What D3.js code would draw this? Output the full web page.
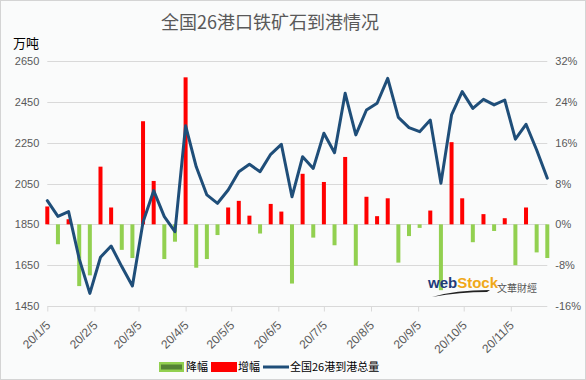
<!DOCTYPE html>
<html><head><meta charset="utf-8">
<script src="https://cdn.jsdelivr.net/npm/d3@7"></script>
<style>
html,body{margin:0;padding:0;background:#fff;}
svg{display:block;}
</style></head>
<body>
<svg id="chart" width="586" height="380"></svg>
<script>
const weeks = ["2020-01-05","2020-01-12","2020-01-19","2020-01-26","2020-02-02","2020-02-09","2020-02-16","2020-02-23",
"2020-03-01","2020-03-08","2020-03-15","2020-03-22","2020-03-29","2020-04-05","2020-04-12","2020-04-19","2020-04-26",
"2020-05-03","2020-05-10","2020-05-17","2020-05-24","2020-05-31","2020-06-07","2020-06-14","2020-06-21","2020-06-28",
"2020-07-05","2020-07-12","2020-07-19","2020-07-26","2020-08-02","2020-08-09","2020-08-16","2020-08-23","2020-08-30",
"2020-09-06","2020-09-13","2020-09-20","2020-09-27","2020-10-04","2020-10-11","2020-10-18","2020-10-25",
"2020-11-01","2020-11-08","2020-11-15","2020-11-22","2020-11-29"];
const arrivals = [1966,1889,1912,1681,1512,1689,1744,1643,1548,1861,2015,1888,1814,2333,2132,1994,1953,2018,2108,2144,2108,2193,2242,1985,2181,2124,2296,2201,2492,2288,2410,2443,2565,2374,2324,2304,2361,2051,2386,2500,2418,2462,2435,2459,2267,2340,2214,2076];
const weeklyChange = [3.5,-3.9,1.0,-12.1,-10.0,11.3,3.3,-5.0,-6.6,20.2,8.5,-6.8,-3.4,28.8,-8.5,-6.8,-2.1,3.3,4.6,1.7,-1.8,4.0,2.5,-11.6,9.9,-2.6,8.3,-4.1,13.2,-8.1,5.4,1.6,5.1,-7.5,-2.3,-0.7,2.7,-12.9,16.1,5.1,-3.5,2.0,-1.3,1.2,-8.0,3.3,-5.5,-6.6];
const xTickDates = ["2020-01-05","2020-02-05","2020-03-05","2020-04-05","2020-05-05","2020-06-05","2020-07-05","2020-08-05","2020-09-05","2020-10-05","2020-11-05"];
const xTickLabels = ["20/1/5","20/2/5","20/3/5","20/4/5","20/5/5","20/6/5","20/7/5","20/8/5","20/9/5","20/10/5","20/11/5"];
const leftTicks = [1450,1650,1850,2050,2250,2450,2650];
const rightTicks = [-16,-8,0,8,16,24,32];
const rightTickLabels = ["-16%","-8%","0%","8%","16%","24%","32%"];
const title = "全国26港口铁矿石到港情况";
const unitLabel = "万吨";
const legendNames = ["降幅","增幅","全国26港到港总量"];

const parse = d3.timeParse("%Y-%m-%d");
const svg = d3.select("#chart");
const W = 586, H = 380;
const plot = {left:47.3, right:547.3, top:61, bottom:306};
const cjk = "'Noto Sans CJK SC','Noto Sans',sans-serif";
const num = "'Liberation Sans',Arial,sans-serif";

svg.append("rect").attr("x",0.5).attr("y",0.5).attr("width",W-1).attr("height",H-1)
  .attr("fill","#fafbfb").attr("stroke","#d4d4d4");

const x = d3.scaleTime().domain([parse(weeks[0]), parse(weeks[weeks.length-1])]).range([plot.left, plot.right]);
const yL = d3.scaleLinear().domain([1450,2650]).range([plot.bottom, plot.top]);
const yR = d3.scaleLinear().domain([-16,32]).range([plot.bottom, plot.top]);

// gridlines
svg.append("g").selectAll("line").data(leftTicks.slice(1)).join("line")
  .attr("x1",plot.left).attr("x2",plot.right)
  .attr("y1",d=>Math.round(yL(d))+0.5).attr("y2",d=>Math.round(yL(d))+0.5)
  .attr("stroke","#d9d9d9").attr("stroke-width",1);

// x axis
const xAxis = d3.axisBottom(x).tickValues(xTickDates.map(parse)).tickSize(5).tickFormat("");
const gx = svg.append("g").attr("transform",`translate(0,${Math.round(plot.bottom)+0.5})`).call(xAxis);
gx.select(".domain").attr("stroke","#d9d9d9").attr("d",`M${plot.left},0H${plot.right}`);
gx.selectAll(".tick line").attr("stroke","#d9d9d9");
svg.append("g").selectAll("text").data(xTickDates).join("text")
  .attr("transform",(d)=>`translate(${x(parse(d))+1},${plot.bottom+17}) rotate(-45)`)
  .attr("text-anchor","end").attr("dy","0.35em")
  .attr("font-family",num).attr("font-size",12).attr("fill","#595959")
  .text((d,i)=>xTickLabels[i]);

// left axis labels
const gl = svg.append("g").attr("transform",`translate(${plot.left},0)`)
  .call(d3.axisLeft(yL).tickValues(leftTicks).tickSize(0).tickPadding(8).tickFormat(d3.format("d")));
gl.select(".domain").remove();
gl.selectAll("text").attr("font-family",num).attr("font-size",11).attr("fill","#595959");

// right axis labels
const gr = svg.append("g").attr("transform",`translate(${plot.right},0)`)
  .call(d3.axisRight(yR).tickValues(rightTicks).tickSize(0).tickPadding(8).tickFormat((d,i)=>rightTickLabels[i]));
gr.select(".domain").remove();
gr.selectAll("text").attr("font-family",num).attr("font-size",11).attr("fill","#595959");

// bars
const bw = 4;
const barData = weeks.map((w,i)=>({d:parse(w), v:weeklyChange[i]}));
svg.append("g").selectAll("rect").data(barData).join("rect")
  .attr("x",d=>x(d.d)-bw/2).attr("width",bw)
  .attr("y",d=>d.v>=0?yR(d.v):yR(0))
  .attr("height",d=>Math.abs(yR(d.v)-yR(0)))
  .attr("fill",d=>d.v>=0?"#ff0000":"#92d050");

// watermark
const wm = svg.append("g");
wm.append("text").attr("x",428).attr("y",288).attr("font-family","'Liberation Sans',Arial,sans-serif")
  .attr("font-weight","bold").attr("font-size",15)
  .selectAll("tspan").data([["web","#1f3c7a"],["Stock","#f0a818"]]).join("tspan")
  .attr("fill",d=>d[1]).text(d=>d[0]);
wm.append("path").attr("d","M432,297 Q455,290 490,290 L487,292 Q460,292 432,297Z").attr("fill","#222");
wm.append("text").attr("x",497).attr("y",292).attr("font-family",cjk).attr("font-size",10)
  .attr("fill","#555").text("文華財經");

// line
const line = d3.line().x((d,i)=>x(parse(weeks[i]))).y(d=>yL(d));
svg.append("path").datum(arrivals).attr("d",line)
  .attr("fill","none").attr("stroke","#1f4e79").attr("stroke-width",3)
  .attr("stroke-linejoin","round").attr("stroke-linecap","round");

// title
svg.append("text").attr("x",270).attr("y",29).attr("text-anchor","middle")
  .attr("font-family",cjk).attr("font-size",18).attr("fill","#595959").text(title);
svg.append("text").attr("x",13).attr("y",48).attr("font-family",cjk).attr("font-size",13)
  .attr("fill","#000").text(unitLabel);

// legend
const lg = svg.append("g").attr("font-family",cjk).attr("font-size",11).attr("fill","#000");
lg.append("rect").attr("x",159).attr("y",362).attr("width",25).attr("height",10).attr("fill","#92d050");
lg.append("rect").attr("x",161).attr("y",364.5).attr("width",21).attr("height",5).attr("fill","#548235");
lg.append("text").attr("x",186).attr("y",371).text(legendNames[0]);
lg.append("rect").attr("x",211).attr("y",362).attr("width",26).attr("height",10).attr("fill","#ff0000");
lg.append("text").attr("x",238).attr("y",371).text(legendNames[1]);
lg.append("line").attr("x1",263).attr("x2",289).attr("y1",367).attr("y2",367)
  .attr("stroke","#1f4e79").attr("stroke-width",3);
lg.append("text").attr("x",290).attr("y",371).text(legendNames[2]);
</script>
</body></html>
